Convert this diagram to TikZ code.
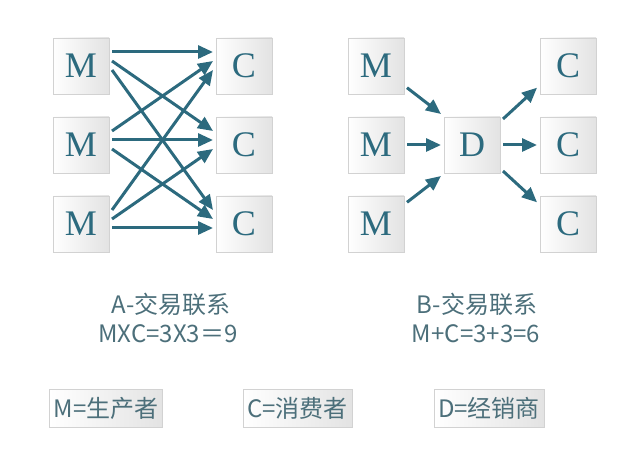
\documentclass[tikz,border=0pt]{standalone}
\usepackage{fontspec}
\setmainfont{Liberation Serif}
\newfontfamily\cjk{Noto Sans CJK SC}
\newfontfamily\lsans{Liberation Sans}
\usepackage{tikz}
\usetikzlibrary{arrows.meta}
\definecolor{teal1}{HTML}{2C6A7E}
\definecolor{labgray}{HTML}{4C6F7A}

\begin{document}
\begin{tikzpicture}
[x=1pt,y=-1pt]
\tikzstyle{box node}=[draw=gray!35,left color=white,right color=gray!22,
  minimum size=56pt,inner sep=0,outer sep=3pt,text=teal1,
  font=\fontsize{36}{36}\selectfont]
\tikzstyle{key node}=[draw=gray!35,left color=white,right color=gray!22,
  minimum height=38pt,inner sep=4pt,text=labgray,
  font=\cjk\fontsize{24}{24}\selectfont]
\tikzstyle{sum node}=[text=labgray,font=\cjk\fontsize{24}{24}\selectfont]
\tikzstyle{arr}=[teal1,line width=3pt,-{Triangle[length=15pt,width=13pt]}]
\useasboundingbox (0,0) rectangle (640,470);

% A
\node(am1)[box node] at (81,66){M};
\node(am2)[box node] at (81,145){M};
\node(am3)[box node] at (81,224){M};
\node(ac1)[box node] at (244,66){C};
\node(ac2)[box node] at (244,145){C};
\node(ac3)[box node] at (244,224){C};

\foreach \i in {1,2,3}
  \foreach \j in {1,2,3}
    \draw[arr] ([yshift=14-9*(\j-1)]am\i.east) -- ([yshift=14-9*(\i-1)]ac\j.west);

% B
\node(bm1)[box node] at (376,66){M};
\node(bm2)[box node] at (376,145){M};
\node(bm3)[box node] at (376,224){M};
\node(d)[box node] at (472,145){D};
\node(bc1)[box node] at (568,66){C};
\node(bc2)[box node] at (568,145){C};
\node(bc3)[box node] at (568,224){C};

\draw[arr] (bm1.-35) -- (d.135);
\draw[arr] (bm2) -- (d);
\draw[arr] (bm3.35) -- (d.-135);
\draw[arr] (d.40) -- (bc1.-145);
\draw[arr] (d) -- (bc2);
\draw[arr] (d.-40) -- (bc3.145);

\node(la)[sum node] at (171,304){A-交易联系};
\node(fa)[sum node] at (168,334){MXC=3X3＝9};
\node(lb)[sum node] at (477,304){B-交易联系};
\node(fb)[sum node] at (476,334){M+C=3+3=6};

% legend
\node(km)[key node] at (106,408){M=生产者};
\node(kc)[key node] at (297.5,408){C=消费者};
\node(kd)[key node] at (489,408){D=经销商};
\end{tikzpicture}
\end{document}
